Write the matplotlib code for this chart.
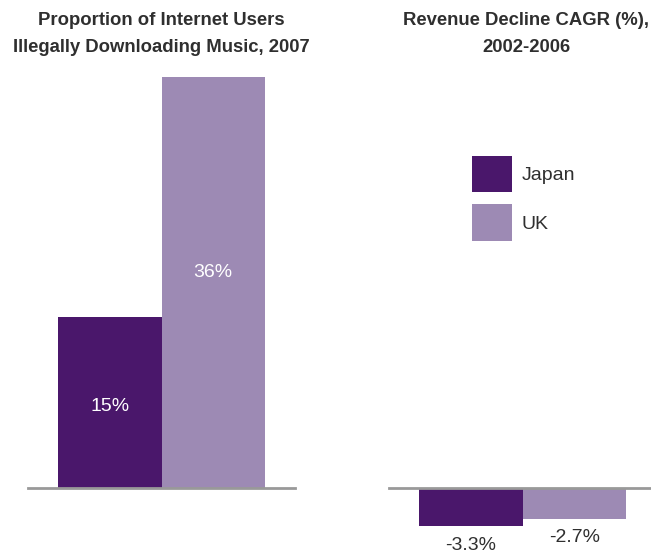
import matplotlib
matplotlib.use("Agg")
import matplotlib.pyplot as plt
from matplotlib.patches import Patch

plt.rcParams['font.family'] = ['Liberation Sans', 'DejaVu Sans']

countries = ["Japan", "UK"]
illegal_share = [15, 36]          # % of internet users, 2007
revenue_cagr = [-3.3, -2.7]       # % per year, 2002-2006
colors = ["#4a176b", "#9d8ab4"]
text_color = "#2f2f2f"

W, H = 651, 554
PX_PER_PCT = 11.42
fig = plt.figure(figsize=(W / 100, H / 100), dpi=100)

def px_axes(x0, y_top, x1, y_bot):
    return fig.add_axes([x0 / W, 1 - y_bot / H, (x1 - x0) / W, (y_bot - y_top) / H])

xs = range(len(countries))

# left panel: share of users downloading illegally
ax1 = px_axes(28, 488 - 36 * PX_PER_PCT, 295, 488)
ax1.bar(xs, illegal_share, width=1.0, color=colors, edgecolor="none")
ax1.set_xlim(-0.79, 1.79)
ax1.set_ylim(0, 36)
label_y = [7.1, 18.9]
for x, v, ly in zip(xs, illegal_share, label_y):
    ax1.text(x, ly, f"{v}%", ha="center", va="center", color="white", fontsize=14)
ax1.axhline(0, color="#999999", lw=2, clip_on=False)
ax1.axis("off")

# right panel: revenue decline, bars hang below the baseline
ax2 = px_axes(389, 488 - 36 * PX_PER_PCT, 651, 488)
bars = ax2.bar(xs, revenue_cagr, width=1.0, color=colors, edgecolor="none")
for b in bars:
    b.set_clip_on(False)
ax2.set_xlim(-0.79, 1.74)
ax2.set_ylim(0, 36)
for x, v, off in zip(xs, revenue_cagr, [20, 19]):
    ax2.annotate(f"{v}%", xy=(x, v), xytext=(0, -off * 0.72), textcoords="offset points",
                 ha="center", va="center", color=text_color, fontsize=14,
                 annotation_clip=False)
ax2.axhline(0, color="#999999", lw=2, clip_on=False)
ax2.axis("off")

handles = [Patch(facecolor=c, edgecolor="none", label=n) for c, n in zip(colors, countries)]
fig.legend(handles=handles, loc="upper left", bbox_to_anchor=(472 / W, 1 - 156 / H),
           frameon=False, fontsize=14, handlelength=2.06, handleheight=2.5,
           handletextpad=0.5, labelspacing=0.62, borderpad=0, borderaxespad=0,
           labelcolor=text_color)

fig.text(161 / W, 1 - 34 / H, "Proportion of Internet Users\nIllegally Downloading Music, 2007",
         ha="center", va="center", fontsize=13.3, fontweight="bold", color=text_color,
         linespacing=1.7)
fig.text(526 / W, 1 - 34 / H, "Revenue Decline CAGR (%),\n2002-2006",
         ha="center", va="center", fontsize=13.3, fontweight="bold", color=text_color,
         linespacing=1.7)

fig.savefig("out.png", dpi=100)
